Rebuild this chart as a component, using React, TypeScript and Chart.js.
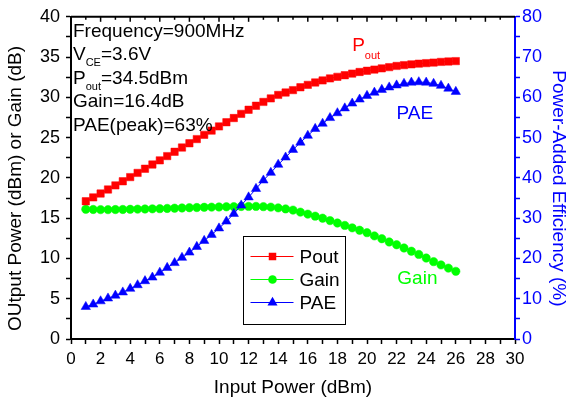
import React, { useEffect, useRef } from 'react';
import { Chart, registerables } from 'chart.js';

Chart.register(...registerables);

const FONT = '"Liberation Sans", Arial, Helvetica, sans-serif';

const inputPower = [
  1, 1.5, 2, 2.5, 3, 3.5, 4, 4.5, 5, 5.5, 6, 6.5, 7, 7.5, 8, 8.5, 9, 9.5, 10, 10.5,
  11, 11.5, 12, 12.5, 13, 13.5, 14, 14.5, 15, 15.5, 16, 16.5, 17, 17.5, 18, 18.5, 19, 19.5, 20, 20.5,
  21, 21.5, 22, 22.5, 23, 23.5, 24, 24.5, 25, 25.5, 26,
];

const outputPower = [
  17.1, 17.58, 18.06, 18.56, 19.07, 19.58, 20.1, 20.62, 21.14, 21.66, 22.18, 22.71, 23.24, 23.77, 24.3, 24.82, 25.35, 25.87, 26.39, 26.91,
  27.43, 27.95, 28.46, 28.96, 29.43, 29.87, 30.3, 30.6, 30.9, 31.25, 31.55, 31.85, 32.1, 32.35, 32.55, 32.75, 32.95, 33.15, 33.3, 33.45,
  33.6, 33.75, 33.9, 34.0, 34.1, 34.18, 34.25, 34.32, 34.4, 34.45, 34.5,
];

const gain = [
  16.1, 16.08, 16.06, 16.06, 16.07, 16.08, 16.1, 16.12, 16.14, 16.16, 16.18, 16.21, 16.24, 16.27, 16.3, 16.32, 16.35, 16.37, 16.39, 16.41,
  16.43, 16.45, 16.46, 16.46, 16.43, 16.37, 16.28, 16.15, 16.0, 15.75, 15.5, 15.25, 15.0, 14.7, 14.4, 14.1, 13.8, 13.5, 13.2, 12.8,
  12.45, 12.05, 11.7, 11.3, 10.9, 10.5, 10.05, 9.6, 9.2, 8.8, 8.4,
];

const pae = [
  8.0, 8.6, 9.4, 10.1, 10.8, 11.6, 12.5, 13.4, 14.4, 15.3, 16.5, 17.7, 18.9, 20.2, 21.5, 22.9, 24.4, 25.9, 27.5, 29.2,
  31.1, 33.2, 35.2, 37.3, 39.4, 41.3, 43.3, 45.1, 47.0, 48.8, 50.5, 52.2, 53.5, 54.9, 56.1, 57.3, 58.5, 59.5, 60.4, 61.2,
  61.9, 62.5, 63.0, 63.4, 63.7, 63.8, 63.7, 63.4, 62.9, 62.2, 61.4,
];

const xMajorTicks = [0, 2, 4, 6, 8, 10, 12, 14, 16, 18, 20, 22, 24, 26, 28, 30];
const leftMajorTicks = [0, 5, 10, 15, 20, 25, 30, 35, 40];
const rightMajorTicks = [0, 10, 20, 30, 40, 50, 60, 70, 80];

const seriesNames = ['Pout', 'Gain', 'PAE'];
const seriesColors = ['#FF0000', '#00FF00', '#0000FF'];
const seriesStyles = ['rect', 'circle', 'triangle'];

// rich text: [text, isSubscript]
const conditionLines: [string, boolean][][] = [
  [['Frequency=900MHz', false]],
  [['V', false], ['CE', true], ['=3.6V', false]],
  [['P', false], ['out', true], ['=34.5dBm', false]],
  [['Gain=16.4dB', false]],
  [['PAE(peak)=63%', false]],
];

const font = (size: number) => `${size}px ${FONT}`;

function drawRich(ctx: CanvasRenderingContext2D, x: number, y: number, segs: [string, boolean][], size: number, subSize: number, subDy: number, color: string) {
  let cx = x;
  ctx.fillStyle = color;
  ctx.textBaseline = 'alphabetic';
  ctx.textAlign = 'left';
  for (const [t, sub] of segs) {
    ctx.font = font(sub ? subSize : size);
    ctx.fillText(t, cx, y + (sub ? subDy : 0));
    cx += ctx.measureText(t).width;
  }
}

function drawMarker(ctx: CanvasRenderingContext2D, style: string, x: number, y: number, r: number, color: string) {
  ctx.fillStyle = color;
  ctx.beginPath();
  if (style === 'rect') {
    const s = r * Math.SQRT1_2;
    ctx.rect(x - s, y - s, 2 * s, 2 * s);
  } else if (style === 'circle') {
    ctx.arc(x, y, r, 0, Math.PI * 2);
  } else {
    ctx.moveTo(x, y - r);
    ctx.lineTo(x + r * 0.866, y + r * 0.5);
    ctx.lineTo(x - r * 0.866, y + r * 0.5);
    ctx.closePath();
  }
  ctx.fill();
}

const overlayPlugin = {
  id: 'overlay',
  afterDraw(chart: any) {
    const { ctx, chartArea, scales } = chart;
    const xs = scales.x;
    const yl = scales.y;
    ctx.save();
    // top frame with inward ticks
    ctx.strokeStyle = '#000';
    ctx.lineWidth = 2;
    ctx.beginPath();
    ctx.moveTo(chartArea.left, chartArea.top);
    ctx.lineTo(chartArea.right, chartArea.top);
    ctx.stroke();
    ctx.lineWidth = 1.5;
    for (let v = xs.min + 1; v < xs.max; v += 1) {
      const px = xs.getPixelForValue(v);
      const len = v % 2 === 0 ? 5 : 3;
      ctx.beginPath();
      ctx.moveTo(px, chartArea.top);
      ctx.lineTo(px, chartArea.top + len);
      ctx.stroke();
    }

    // condition text block
    conditionLines.forEach((segs, i) => {
      drawRich(ctx, chartArea.left + 2, chartArea.top + 20 + i * 23.5, segs, 19, 11, 6, '#000');
    });

    // series labels
    drawRich(ctx, xs.getPixelForValue(19), yl.getPixelForValue(35.7), [['P', false], ['out', true]], 19, 11, 8, seriesColors[0]);
    drawRich(ctx, xs.getPixelForValue(22), yl.getPixelForValue(27.3), [['PAE', false]], 19, 11, 6, seriesColors[2]);
    drawRich(ctx, xs.getPixelForValue(22.05), yl.getPixelForValue(6.8), [['Gain', false]], 19, 11, 6, seriesColors[1]);

    // legend box
    const bx = Math.round(xs.getPixelForValue(11.6)) + 0.5;
    const by = Math.round(yl.getPixelForValue(12.75)) + 0.5;
    const bw = 102;
    const bh = 88;
    ctx.fillStyle = '#fff';
    ctx.fillRect(bx, by, bw, bh);
    ctx.strokeStyle = '#000';
    ctx.lineWidth = 1;
    ctx.strokeRect(bx, by, bw, bh);
    seriesNames.forEach((name, i) => {
      const ry = by + 20 + i * 23;
      ctx.strokeStyle = seriesColors[i];
      ctx.lineWidth = 1;
      ctx.beginPath();
      ctx.moveTo(bx + 7, ry);
      ctx.lineTo(bx + 50, ry);
      ctx.stroke();
      drawMarker(ctx, seriesStyles[i], bx + 29, ry, i === 0 ? 5.3 : i === 1 ? 4.3 : 5.8, seriesColors[i]);
      ctx.fillStyle = '#000';
      ctx.font = font(19);
      ctx.textBaseline = 'middle';
      ctx.textAlign = 'left';
      ctx.fillText(name, bx + 56, ry + 1);
    });
    ctx.restore();
  },
};

export default function App() {
  const canvasRef = useRef<HTMLCanvasElement | null>(null);

  useEffect(() => {
    if (!canvasRef.current) return;
    const mk = (vals: number[]) => inputPower.map((x, i) => ({ x, y: vals[i] }));
    const chart = new Chart(canvasRef.current, {
      type: 'line',
      data: {
        datasets: [
          {
            label: seriesNames[0],
            data: mk(outputPower),
            yAxisID: 'y',
            borderColor: seriesColors[0],
            backgroundColor: seriesColors[0],
            pointStyle: 'rect',
            pointRadius: 5.2,
            pointBorderWidth: 0.5,
            borderWidth: 1,
            order: 1,
          },
          {
            label: seriesNames[1],
            data: mk(gain),
            yAxisID: 'y',
            borderColor: seriesColors[1],
            backgroundColor: seriesColors[1],
            pointStyle: 'circle',
            pointRadius: 4.2,
            pointBorderWidth: 0.5,
            borderWidth: 1,
            order: 2,
          },
          {
            label: seriesNames[2],
            data: mk(pae),
            yAxisID: 'y1',
            borderColor: seriesColors[2],
            backgroundColor: seriesColors[2],
            pointStyle: 'triangle',
            pointRadius: 5.4,
            pointBorderWidth: 0.5,
            borderWidth: 1,
            order: 0,
          },
        ],
      },
      options: {
        responsive: false,
        animation: false,
        layout: { padding: { top: 16, left: 0, right: 0, bottom: 0 } },
        plugins: { legend: { display: false }, tooltip: { enabled: false } },
        scales: {
          x: {
            type: 'linear',
            position: 'bottom',
            min: 0,
            max: 30,
            ticks: {
              stepSize: 1,
              autoSkip: false,
              maxRotation: 0,
              color: '#000',
              padding: 5,
              font: { size: 17, family: FONT },
              callback: (v: any) => (xMajorTicks.includes(Number(v)) ? String(v) : ''),
            },
            grid: { display: true, drawOnChartArea: false, drawTicks: true, tickLength: 5, tickColor: '#000', tickWidth: 1.5 },
            border: { display: true, color: '#000', width: 2 },
            title: { display: true, text: 'Input Power (dBm)', color: '#000', font: { size: 19, family: FONT }, padding: { top: 4, bottom: 2 } },
            afterFit: (s: any) => { s.height = 62; },
          },
          y: {
            type: 'linear',
            position: 'left',
            min: 0,
            max: 40,
            ticks: {
              stepSize: 2.5,
              autoSkip: false,
              color: '#000',
              padding: 6,
              font: { size: 18, family: FONT },
              callback: (v: any) => (leftMajorTicks.includes(Number(v)) ? String(v) : ''),
            },
            grid: { display: true, drawOnChartArea: false, drawTicks: true, tickLength: 5, tickColor: '#000', tickWidth: 1.5 },
            border: { display: true, color: '#000', width: 2 },
            title: { display: true, text: 'OUtput Power (dBm) or Gain (dB)    ', color: '#000', font: { size: 19, family: FONT }, padding: { top: 4, bottom: 0 } },
            afterFit: (s: any) => { s.width = 71; },
          },
          y1: {
            type: 'linear',
            position: 'right',
            min: 0,
            max: 80,
            ticks: {
              stepSize: 5,
              autoSkip: false,
              color: '#0000FF',
              padding: 2,
              font: { size: 18, family: FONT },
              callback: (v: any) => (rightMajorTicks.includes(Number(v)) ? String(v) : ''),
            },
            grid: { display: true, drawOnChartArea: false, drawTicks: true, tickLength: 5, tickColor: '#0000FF', tickWidth: 1.5 },
            border: { display: true, color: '#0000FF', width: 2 },
            title: { display: true, text: '    Power-Added Efficiency (%)', color: '#0000FF', font: { size: 19, family: FONT }, padding: { top: -2, bottom: 0 } },
            afterFit: (s: any) => { s.width = 53; },
          },
        },
      },
      plugins: [overlayPlugin],
    } as any);
    return () => chart.destroy();
  }, []);

  return (
    <div style={{ position: 'absolute', left: 0, top: 0, width: 568, height: 401, background: '#fff' }}>
      <canvas ref={canvasRef} width={568} height={401} style={{ width: 568, height: 401 }} />
    </div>
  );
}
